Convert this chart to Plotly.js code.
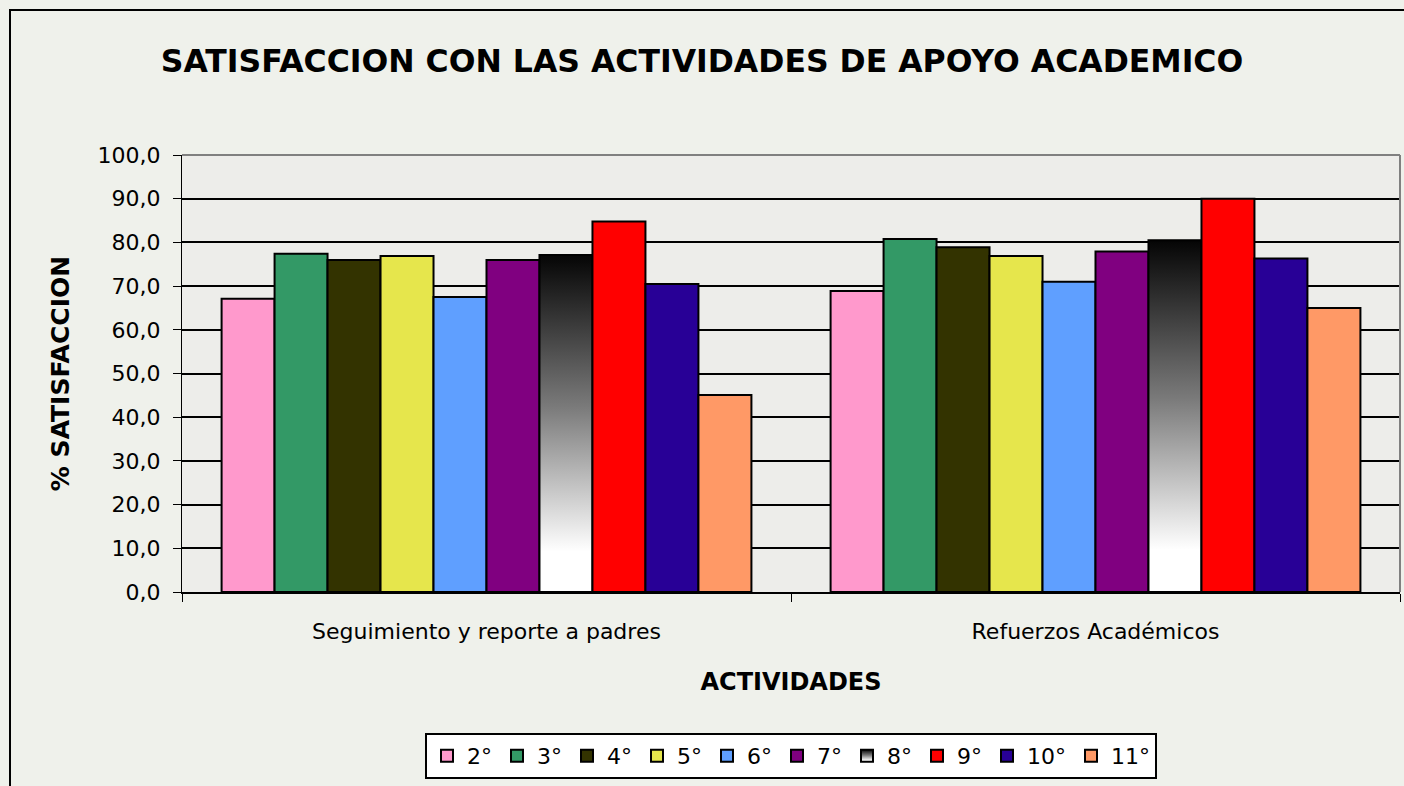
<!DOCTYPE html>
<html>
<head>
<meta charset="utf-8">
<script src="https://cdn.plot.ly/plotly-3.0.1.min.js"></script>
<style>
  html, body { margin: 0; padding: 0; background: #eff1eb; }
  #wrap { position: relative; width: 1404px; height: 786px; overflow: hidden; }
  #chart { position: absolute; left: 0; top: 0; width: 1404px; height: 786px; }
  #frame { position: absolute; left: 9px; top: 9px; width: 1420px; height: 800px;
           border-left: 2px solid #000; border-top: 2px solid #000; pointer-events: none; }
</style>
</head>
<body>
<div id="wrap">
  <div id="chart"></div>
  <div id="frame"></div>
</div>
<script>
// ---- data ----
const categories = ["Seguimiento y reporte a padres", "Refuerzos Académicos"];
const grades = ["2°", "3°", "4°", "5°", "6°", "7°", "8°", "9°", "10°", "11°"];
const seguimiento = [67.1, 77.4, 76.0, 76.9, 67.5, 76.0, 77.1, 84.8, 70.5, 45.1];
const refuerzos   = [68.9, 80.8, 78.9, 76.9, 71.0, 77.9, 80.5, 90.0, 76.3, 65.0];
const colors = ["#ff99cc", "#339966", "#333300", "#e6e64c", "#5f9fff",
                "#800080", "#888888", "#ff0000", "#280096", "#ff9966"];

const FONT = "DejaVu Sans, Verdana, sans-serif";

const traces = grades.map((g, i) => ({
  type: "bar",
  name: g,
  x: categories,
  y: [seguimiento[i], refuerzos[i]],
  marker: { color: colors[i], line: { color: "#000", width: 2 } },
  hoverinfo: "y+name"
}));

const layout = {
  width: 1404, height: 786,
  paper_bgcolor: "#eff1eb",
  plot_bgcolor: "#ededea",
  separators: ",.",
  font: { family: FONT, size: 22, color: "#000" },
  margin: { l: 182, r: 4, t: 155, b: 194 },
  barmode: "group",
  bargap: 0.13,
  bargroupgap: 0,
  title: {
    text: "<b>SATISFACCION CON LAS ACTIVIDADES DE APOYO ACADEMICO</b>",
    font: { family: FONT, size: 31.5, color: "#000" },
    x: 0.5, xref: "container", xanchor: "center",
    y: 0.922, yref: "container", yanchor: "middle"
  },
  xaxis: {
    type: "category",
    showgrid: false,
    showline: true, linecolor: "#000", linewidth: 2,
    ticks: "outside", tickson: "boundaries", ticklen: 8, tickcolor: "#000", tickwidth: 1,
    ticklabelstandoff: 19,
    tickfont: { family: FONT, size: 22 },
    title: { text: "<b>ACTIVIDADES</b>", font: { family: FONT, size: 24 }, standoff: 30 }
  },
  yaxis: {
    range: [0, 100],
    dtick: 10, tick0: 0,
    tickformat: ".1f",
    showgrid: true, gridcolor: "#000", gridwidth: 2,
    zeroline: false,
    showline: true, linecolor: "#000", linewidth: 1,
    ticks: "outside", ticklen: 8, tickcolor: "#000", tickwidth: 1,
    ticklabelstandoff: 8,
    tickfont: { family: FONT, size: 22 },
    title: { text: "<b>% SATISFACCION</b>", font: { family: FONT, size: 25 }, standoff: 20 }
  },
  showlegend: true,
  legend: {
    orientation: "h",
    x: 0.5, xanchor: "center", xref: "paper",
    y: -0.3227, yanchor: "top",
    bgcolor: "#ffffff", bordercolor: "#000", borderwidth: 2,
    font: { family: FONT, size: 22 },
    itemwidth: 30,
    traceorder: "normal"
  },
  shapes: [
    { type: "line", xref: "paper", yref: "paper", x0: 0, x1: 1, y0: 1, y1: 1,
      line: { color: "#808080", width: 2 } },
    { type: "line", xref: "paper", yref: "paper", x0: 1, x1: 1, y0: 0, y1: 1,
      line: { color: "#808080", width: 2 } }
  ]
};

Plotly.newPlot("chart", traces, layout, { staticPlot: true }).then(gd => {
  // gradient fill for the 8° series (black at top fading to white)
  const svg = gd.querySelector(".main-svg");
  const ns = "http://www.w3.org/2000/svg";
  let defs = svg.querySelector("defs");
  if (!defs) { defs = document.createElementNS(ns, "defs"); svg.insertBefore(defs, svg.firstChild); }
  const lg = document.createElementNS(ns, "linearGradient");
  lg.setAttribute("id", "grad8");
  lg.setAttribute("x1", "0"); lg.setAttribute("y1", "0");
  lg.setAttribute("x2", "0"); lg.setAttribute("y2", "1");
  [["0", "#050505"], ["0.45", "#7a7a7a"], ["0.88", "#ffffff"], ["1", "#ffffff"]].forEach(([o, c]) => {
    const st = document.createElementNS(ns, "stop");
    st.setAttribute("offset", o); st.setAttribute("stop-color", c);
    lg.appendChild(st);
  });
  defs.appendChild(lg);
  const idx = grades.indexOf("8°");
  const barTraces = gd.querySelectorAll(".barlayer .trace");
  if (barTraces[idx]) barTraces[idx].querySelectorAll("path").forEach(p => { p.style.fill = "url(#grad8)"; });
  gd.querySelectorAll(".legend .traces").forEach(t => {
    const d = t.__data__;
    const name = d && d[0] && d[0].trace ? d[0].trace.name : null;
    if (name === "8°") {
      t.querySelectorAll(".legendpoints path").forEach(p => { p.style.fill = "url(#grad8)"; });
    }
  });
});
</script>
</body>
</html>
